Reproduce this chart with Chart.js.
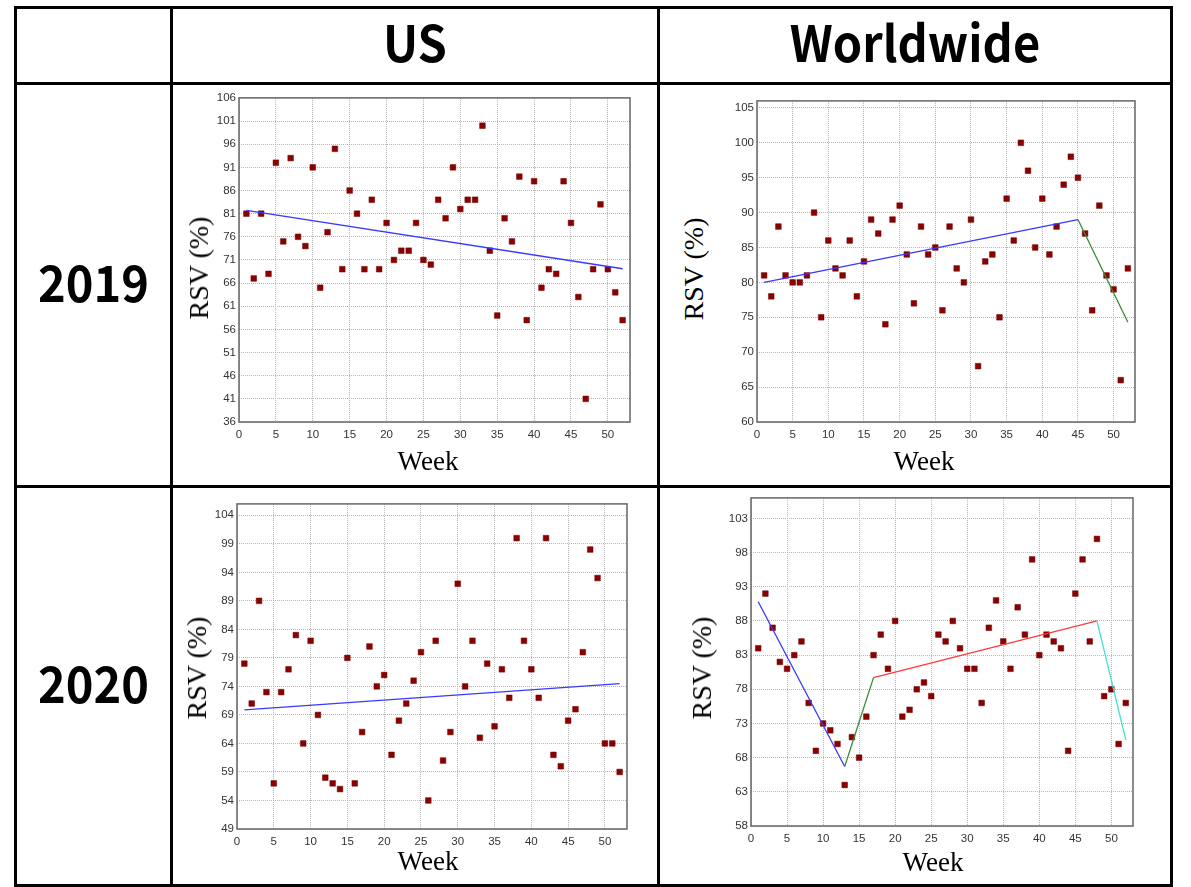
<!DOCTYPE html>
<html lang="en">
<head>
  <meta charset="UTF-8" />
  <title>RSV by week</title>
  <style>
    html, body { margin: 0; padding: 0; background: #fff; }
    body { width: 1191px; height: 887px; position: relative; overflow: hidden; }
    .ln { position: absolute; background: #000; }
    .head { position: absolute; display: flex; align-items: center; justify-content: center;
            font-family: "Noto Sans CJK JP", "Noto Sans", sans-serif; font-weight: 700; font-size: 47px;
            line-height: 1; color: #000; }
    .head span { display: inline-block; transform: translateY(-5px) scaleY(1.06); }
    .plot { position: absolute; }
    .ytitle, .xtitle { position: absolute; font-family: "Liberation Serif", "DejaVu Serif", serif; color: #000;
                       line-height: 1; white-space: nowrap; transform-origin: center center; }
    .ytitle { font-size: 28px; transform: translate(-50%, -50%) rotate(-90deg); }
    .xtitle { font-size: 27px; transform: translate(-50%, -50%); }
  </style>
</head>
<body>
  <!-- table rules -->
  <div class="ln" style="left:14px; top:6px; width:1159px; height:3px"></div>
  <div class="ln" style="left:14px; top:82px; width:1159px; height:3px"></div>
  <div class="ln" style="left:14px; top:485px; width:1159px; height:3px"></div>
  <div class="ln" style="left:14px; top:884px; width:1159px; height:3px"></div>
  <div class="ln" style="left:14px; top:6px; width:3px; height:881px"></div>
  <div class="ln" style="left:170px; top:6px; width:3px; height:881px"></div>
  <div class="ln" style="left:657px; top:6px; width:3px; height:881px"></div>
  <div class="ln" style="left:1170px; top:6px; width:3px; height:881px"></div>

  <div class="head" style="left:173px; top:9px; width:484px; height:73px"><span>US</span></div>
  <div class="head" style="left:660px; top:9px; width:510px; height:73px"><span>Worldwide</span></div>
  <div class="head" style="left:17px; top:85px; width:153px; height:400px"><span>2019</span></div>
  <div class="head" style="left:17px; top:488px; width:153px; height:396px"><span>2020</span></div>

  <div class="plot" id="us2019Box"><canvas id="us2019"></canvas></div>
  <div class="plot" id="ww2019Box"><canvas id="ww2019"></canvas></div>
  <div class="plot" id="us2020Box"><canvas id="us2020"></canvas></div>
  <div class="plot" id="ww2020Box"><canvas id="ww2020"></canvas></div>

  <div class="ytitle" style="left:199px; top:268px">RSV (%)</div>
  <div class="ytitle" style="left:694px; top:269px">RSV (%)</div>
  <div class="ytitle" style="left:197px; top:668px">RSV (%)</div>
  <div class="ytitle" style="left:702px; top:668px">RSV (%)</div>
  <div class="xtitle" style="left:428px; top:461px">Week</div>
  <div class="xtitle" style="left:924px; top:461px">Week</div>
  <div class="xtitle" style="left:428px; top:861px">Week</div>
  <div class="xtitle" style="left:933px; top:862px">Week</div>

  <script src="https://cdn.jsdelivr.net/npm/chart.js"></script>
  <script>
    // weeks of the year
    const weeks = [1,2,3,4,5,6,7,8,9,10,11,12,13,14,15,16,17,18,19,20,21,22,23,24,25,26,
                   27,28,29,30,31,32,33,34,35,36,37,38,39,40,41,42,43,44,45,46,47,48,49,50,51,52];

    // weekly RSV (%)
    const us2019 = [81,67,81,68,92,75,93,76,74,91,65,77,95,69,86,81,69,84,69,79,71,73,73,79,71,70,
                    84,80,91,82,84,84,100,73,59,80,75,89,58,88,65,69,68,88,79,63,41,69,83,69,64,58];
    const ww2019 = [81,78,88,81,80,80,81,90,75,86,82,81,86,78,83,89,87,74,89,91,84,77,88,84,85,76,
                    88,82,80,89,68,83,84,75,92,86,100,96,85,92,84,88,94,98,95,87,76,91,81,79,66,82];
    const us2020 = [78,71,89,73,57,73,77,83,64,82,69,58,57,56,79,57,66,81,74,76,62,68,71,75,80,54,
                    82,61,66,92,74,82,65,78,67,77,72,100,82,77,72,100,62,60,68,70,80,98,93,64,64,59];
    const ww2020 = [84,92,87,82,81,83,85,76,69,73,72,70,64,71,68,74,83,86,81,88,74,75,78,79,77,86,
                    85,88,84,81,81,76,87,91,85,81,90,86,97,83,86,85,84,69,92,97,85,100,77,78,70,76];

    // fitted trend lines (break points)
    const us2019FitX = [1, 52];            const us2019FitY = [81.7, 69.1];
    const ww2019FitX = [1, 45, 52];        const ww2019FitY = [80.0, 89.0, 74.3];
    const us2020FitX = [1, 52];            const us2020FitY = [69.9, 74.5];
    const ww2020FitX = [1, 13, 17, 48, 52]; const ww2020FitY = [90.8, 66.7, 79.7, 88.0, 70.6];

    // tick labels
    const weekTicks = [0,5,10,15,20,25,30,35,40,45,50];
    const us2019Ticks = [36,41,46,51,56,61,66,71,76,81,86,91,96,101,106];
    const ww2019Ticks = [60,65,70,75,80,85,90,95,100,105];
    const us2020Ticks = [49,54,59,64,69,74,79,84,89,94,99,104];
    const ww2020Ticks = [58,63,68,73,78,83,88,93,98,103];

    const YW = 40, XH = 24, PT = 9, PR = 10;
    const tickFont = { family: '"Liberation Sans", Arial, sans-serif', size: 11.5 };

    const frame = {
      id: 'frame',
      beforeDatasetsDraw(chart) {
        const { ctx, chartArea: a } = chart;
        ctx.save();
        ctx.strokeStyle = '#666';
        ctx.lineWidth = 1.5;
        ctx.strokeRect(a.left, a.top, a.right - a.left, a.bottom - a.top);
        ctx.restore();
      }
    };

    function makeChart(id, box, values, yTicks, fitX, fitY, fitColors) {
      const [l, t, r, b] = box;
      const wrap = document.getElementById(id + 'Box');
      wrap.style.left = (l - YW) + 'px';
      wrap.style.top = (t - PT) + 'px';
      wrap.style.width = (r - l + YW + PR) + 'px';
      wrap.style.height = (b - t + PT + XH) + 'px';

      new Chart(document.getElementById(id), {
        type: 'scatter',
        data: {
          datasets: [
            {
              data: fitX.map((x, i) => ({ x, y: fitY[i] })),
              showLine: true, pointRadius: 0, borderWidth: 1.3,
              borderColor: fitColors[0],
              segment: { borderColor: c => fitColors[c.p0DataIndex] }
            },
            {
              data: weeks.map((w, i) => ({ x: w, y: values[i] })),
              pointStyle: 'rect', pointRadius: 4,
              backgroundColor: '#8b0000', borderColor: '#700000', borderWidth: 0.5
            }
          ]
        },
        options: {
          responsive: true, maintainAspectRatio: false, animation: false,
          layout: { padding: { top: PT, right: PR, left: 0, bottom: 0 } },
          plugins: { legend: { display: false }, tooltip: { enabled: false } },
          scales: {
            x: {
              type: 'linear', min: 0, max: 53,
              afterBuildTicks: a => { a.ticks = weekTicks.map(v => ({ value: v })); },
              afterFit: a => { a.height = XH; },
              grid: { color: '#b5b5b5', lineWidth: 1, drawTicks: false },
              border: { display: false, dash: [1, 1] },
              ticks: { padding: 6, font: tickFont, color: '#333', maxRotation: 0, autoSkip: false }
            },
            y: {
              type: 'linear', min: yTicks[0], max: 106,
              afterBuildTicks: a => { a.ticks = yTicks.map(v => ({ value: v })); },
              afterFit: a => { a.width = YW; },
              grid: { color: '#b5b5b5', lineWidth: 1, drawTicks: false },
              border: { display: false, dash: [1, 1] },
              ticks: { padding: 3, font: tickFont, color: '#333', autoSkip: false }
            }
          }
        },
        plugins: [frame]
      });
    }

    makeChart('us2019', [239, 97, 630, 422], us2019, us2019Ticks, us2019FitX, us2019FitY, ['#3838ff']);
    makeChart('ww2019', [757, 100, 1135, 422], ww2019, ww2019Ticks, ww2019FitX, ww2019FitY, ['#3838ff', '#3a8a3a']);
    makeChart('us2020', [237, 503, 627, 829], us2020, us2020Ticks, us2020FitX, us2020FitY, ['#3838ff']);
    makeChart('ww2020', [751, 497, 1133, 826], ww2020, ww2020Ticks, ww2020FitX, ww2020FitY,
              ['#3838ff', '#3a8a3a', '#ff3a3a', '#40e0d0']);
  </script>
</body>
</html>
